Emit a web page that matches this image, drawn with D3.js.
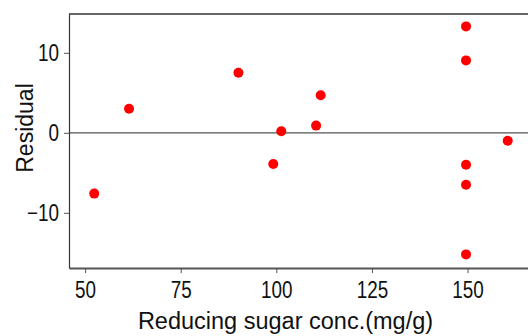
<!DOCTYPE html>
<html>
<head>
<meta charset="utf-8">
<script src="https://d3js.org/d3.v7.min.js"></script>
<style>
  body { margin: 0; background: #fff; }
  svg { display: block; }
  text { font-family: "Liberation Sans", Arial, sans-serif; fill: #111; }
</style>
</head>
<body>
<svg id="chart" width="528" height="336"></svg>
<script>
// reducing sugar conc. (mg/g) and residual for each observation
var sugar    = [52.4, 61.5, 90.1, 99.2, 101.3, 110.4, 111.6, 149.6, 149.6, 149.6, 149.6, 149.6, 160.5];
var residual = [-7.6, 3.0, 7.5, -3.9, 0.2, 0.9, 4.7, 13.3, 9.05, -4.0, -6.5, -15.2, -1.0];
var xTicks = [50, 75, 100, 125, 150];
var yTicks = [-10, 0, 10];

var canvas = d3.select("#chart"),
    margins = {"left": 69, "right": 0, "top": 14, "bottom": 68},
    width = 528,
    height = 336,
    squeeze = 0.82; // tick labels use a condensed face in the original

var x = d3.scaleLinear().domain([45.8, 165.8]).range([margins.left, width - margins.right]),
    y = d3.scaleLinear().domain([-16.9, 14.85]).range([height - margins.bottom, margins.top]);

var data = sugar.map((s, i) => [s, residual[i]]);

// frame: top border + zero reference line
canvas.append("line")
    .attr("x1", margins.left).attr("x2", width)
    .attr("y1", margins.top).attr("y2", margins.top)
    .attr("stroke", "#666").attr("stroke-width", 2);

canvas.append("line")
    .attr("x1", margins.left).attr("x2", width)
    .attr("y1", y(0)).attr("y2", y(0))
    .attr("stroke", "#555").attr("stroke-width", 1.2);

var xaxis = canvas.append("g").attr("transform", "translate(" + [0, height - margins.bottom] + ")")
    .call(d3.axisBottom(x).tickValues(xTicks).tickSize(5).tickSizeOuter(0).tickPadding(5));
var yaxis = canvas.append("g").attr("transform", "translate(" + [margins.left, 0] + ")")
    .call(d3.axisLeft(y).tickValues(yTicks).tickSize(5).tickSizeOuter(0).tickPadding(5)
        .tickFormat(d => d < 0 ? "\u2212" + Math.abs(d) : d));

xaxis.select(".domain").attr("stroke", "#555").attr("stroke-width", 2);
yaxis.select(".domain").attr("stroke", "#333").attr("stroke-width", 1.2);
[xaxis, yaxis].forEach(ax => {
    ax.selectAll(".tick line").attr("stroke", "#555").attr("stroke-width", 1);
    ax.selectAll(".tick text")
        .attr("font-family", "'Liberation Sans', Arial, sans-serif")
        .attr("font-size", "23px").attr("fill", "#111")
        .attr("transform", "scale(" + squeeze + ",1)");
});
xaxis.selectAll(".tick text").attr("dy", "0.85em");
yaxis.selectAll(".tick text").attr("x", -10 / squeeze);

canvas.append("g").selectAll("circle")
    .data(data)
    .enter().append("circle")
    .attr("cx", d => x(d[0])).attr("cy", d => y(d[1]))
    .attr("r", 5)
    .attr("fill", "#f00");

canvas.append("text")
    .attr("x", 285.5).attr("y", 329)
    .attr("text-anchor", "middle")
    .attr("font-size", "23.5px")
    .text("Reducing sugar conc.(mg/g)");

canvas.append("text")
    .attr("transform", "translate(33,128) rotate(-90)")
    .attr("text-anchor", "middle")
    .attr("font-size", "23px")
    .text("Residual");
</script>
</body>
</html>
